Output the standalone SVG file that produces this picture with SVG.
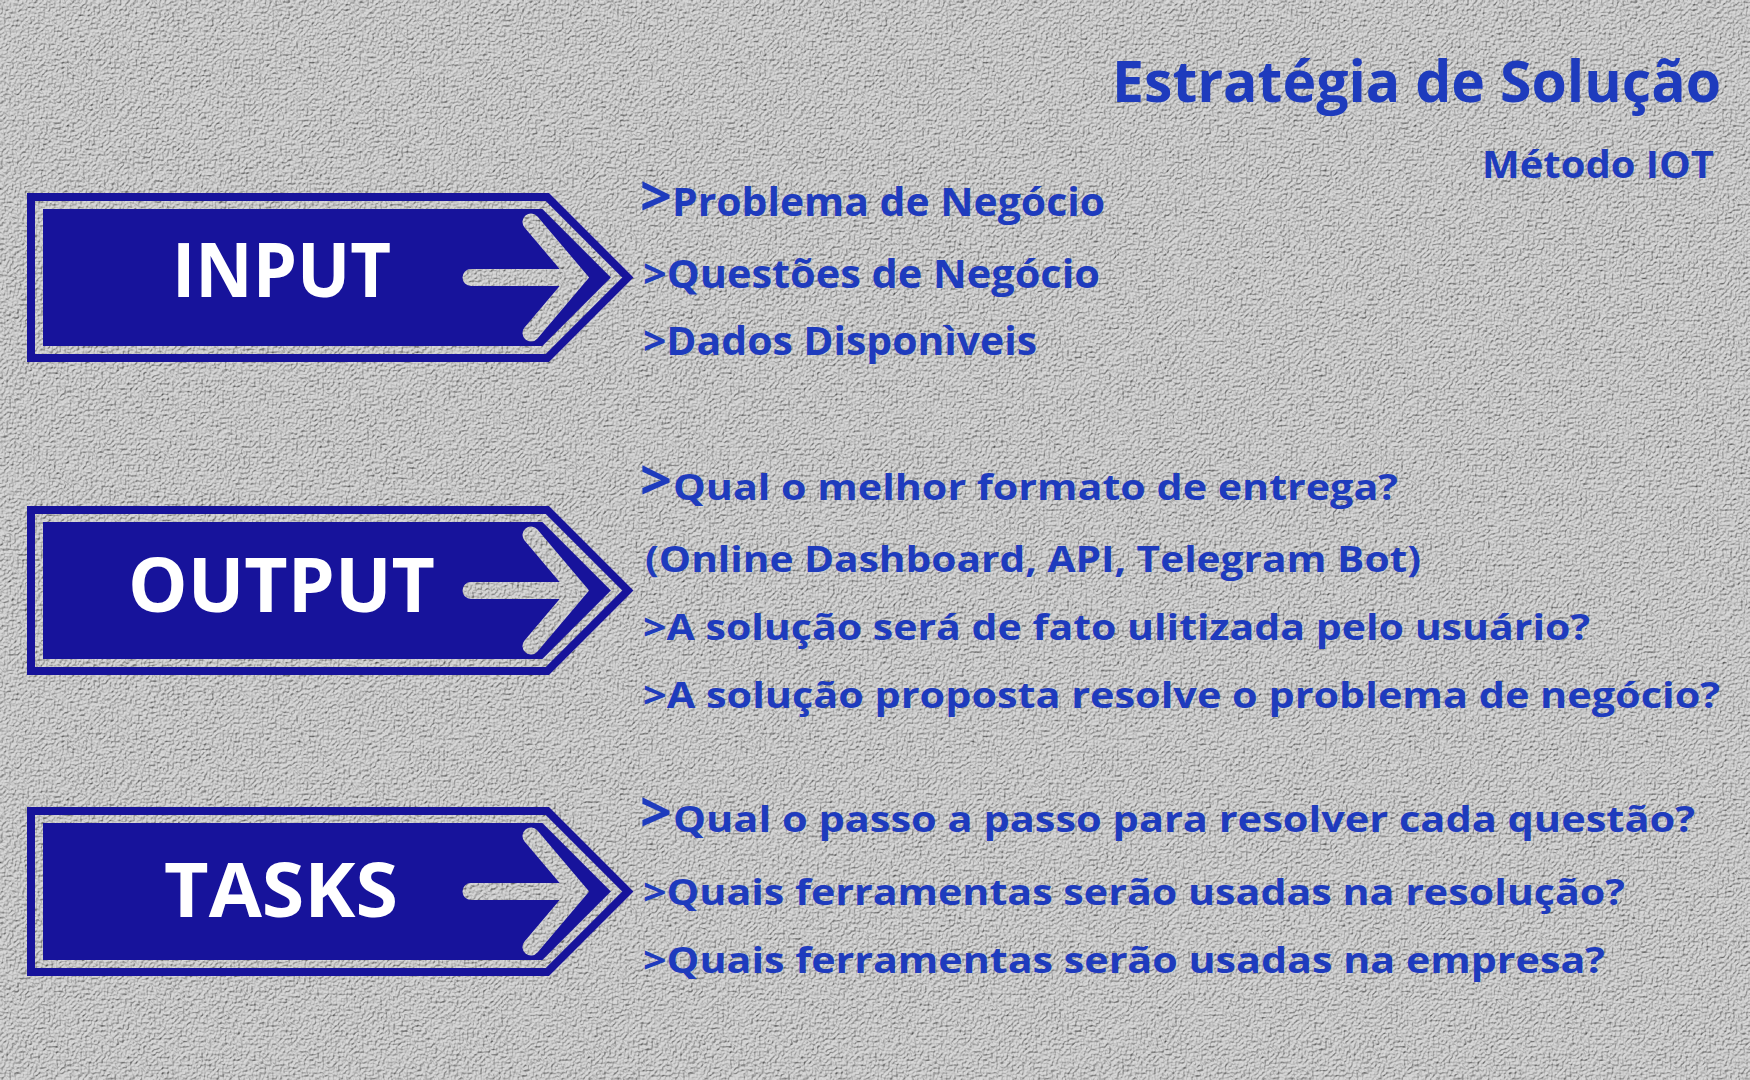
<svg xmlns="http://www.w3.org/2000/svg" width="1750" height="1080" viewBox="0 0 1750 1080">
  <defs>
    <filter id="stucco" filterUnits="userSpaceOnUse" x="0" y="0" width="1750" height="1080">
      <feTurbulence type="fractalNoise" baseFrequency="0.38" numOctaves="2" seed="7" result="noise"/>
      <feDiffuseLighting in="noise" surfaceScale="2.5" diffuseConstant="1.1" lighting-color="#d0d0d0" result="lit">
        <feDistantLight azimuth="235" elevation="58"/>
      </feDiffuseLighting>
    </filter>
    <mask id="arrowCut" maskUnits="userSpaceOnUse" x="0" y="0" width="700" height="200">
      <rect x="0" y="0" width="700" height="200" fill="#fff"/>
      <path d="M471,84.5 H578 M531,29 L578,84.5 L531,140" fill="none" stroke="#000" stroke-width="17" stroke-linecap="round" stroke-linejoin="miter"/>
    </mask>
    <style>
      .frame { fill: none; stroke: #17139b; stroke-width: 8; stroke-linejoin: miter; }
      .inner { fill: #17139b; }
      .label { font-family: "Open Sans", "Liberation Sans", sans-serif; font-weight: 700; font-size: 76px; fill: #ffffff; }
      .title { font-family: "Open Sans", "Liberation Sans", sans-serif; font-weight: 700; fill: #1e3bbd; }
      .t1 { font-family: "Open Sans", "Liberation Sans", sans-serif; font-weight: 700; font-size: 39.5px; fill: #1e3bbd; }
      .t2 { font-family: "Open Sans", "Liberation Sans", sans-serif; font-weight: 700; font-size: 35.5px; fill: #1e3bbd; }
      .gt { font-family: "Open Sans", "Liberation Sans", sans-serif; font-weight: 700; font-size: 56px; fill: #1e3bbd; }
    </style>
  </defs>

  <rect id="background" x="0" y="0" width="1750" height="1080" fill="#b0b0b0" filter="url(#stucco)"/>

  <g id="title">
    <text class="title" x="1112" y="102" font-size="57" textLength="609" lengthAdjust="spacingAndGlyphs">Estratégia de Solução</text>
    <text class="title" x="1482" y="178" font-size="37" textLength="232" lengthAdjust="spacingAndGlyphs">Método IOT</text>
  </g>

  <g id="node-input" transform="translate(0,193)">
    <polygon class="frame" points="31,4 547.3,4 627.8,84.5 547.3,165 31,165"/>
    <polygon class="inner" points="43,16 542.4,16 610.9,84.5 542.4,153 43,153" mask="url(#arrowCut)"/>
    <text class="label" x="172" y="104" textLength="219" lengthAdjust="spacingAndGlyphs">INPUT</text>
  </g>

  <g id="node-output" transform="translate(0,506)">
    <polygon class="frame" points="31,4 547.3,4 627.8,84.5 547.3,165 31,165"/>
    <polygon class="inner" points="43,16 542.4,16 610.9,84.5 542.4,153 43,153" mask="url(#arrowCut)"/>
    <text class="label" x="128" y="106" textLength="307" lengthAdjust="spacingAndGlyphs">OUTPUT</text>
  </g>

  <g id="node-tasks" transform="translate(0,807)">
    <polygon class="frame" points="31,4 547.3,4 627.8,84.5 547.3,165 31,165"/>
    <polygon class="inner" points="43,16 542.4,16 610.9,84.5 542.4,153 43,153" mask="url(#arrowCut)"/>
    <text class="label" x="164" y="110" textLength="234" lengthAdjust="spacingAndGlyphs">TASKS</text>
  </g>

  <g id="input-items">
    <text class="gt" x="640" y="216">&gt;</text>
    <text class="t1" x="672" y="216" textLength="433" lengthAdjust="spacingAndGlyphs">Problema de Negócio</text>
    <text class="t1" x="643" y="288" textLength="457" lengthAdjust="spacingAndGlyphs">&gt;Questões de Negócio</text>
    <text class="t1" x="643" y="355" textLength="394" lengthAdjust="spacingAndGlyphs">&gt;Dados Disponìveis</text>
  </g>

  <g id="output-items">
    <text class="gt" x="640" y="500">&gt;</text>
    <text class="t2" x="673" y="500" textLength="725" lengthAdjust="spacingAndGlyphs">Qual o melhor formato de entrega?</text>
    <text class="t2" x="645" y="572" textLength="776" lengthAdjust="spacingAndGlyphs">(Online Dashboard, API, Telegram Bot)</text>
    <text class="t2" x="643" y="640" textLength="947" lengthAdjust="spacingAndGlyphs">&gt;A solução será de fato ulitizada pelo usuário?</text>
    <text class="t2" x="643" y="708" textLength="1077" lengthAdjust="spacingAndGlyphs">&gt;A solução proposta resolve o problema de negócio?</text>
  </g>

  <g id="tasks-items">
    <text class="gt" x="640" y="832">&gt;</text>
    <text class="t2" x="673" y="832" textLength="1022" lengthAdjust="spacingAndGlyphs">Qual o passo a passo para resolver cada questão?</text>
    <text class="t2" x="643" y="905" textLength="982" lengthAdjust="spacingAndGlyphs">&gt;Quais ferramentas serão usadas na resolução?</text>
    <text class="t2" x="643" y="973" textLength="962" lengthAdjust="spacingAndGlyphs">&gt;Quais ferramentas serão usadas na empresa?</text>
  </g>

  <g id="connectors"/>
</svg>
